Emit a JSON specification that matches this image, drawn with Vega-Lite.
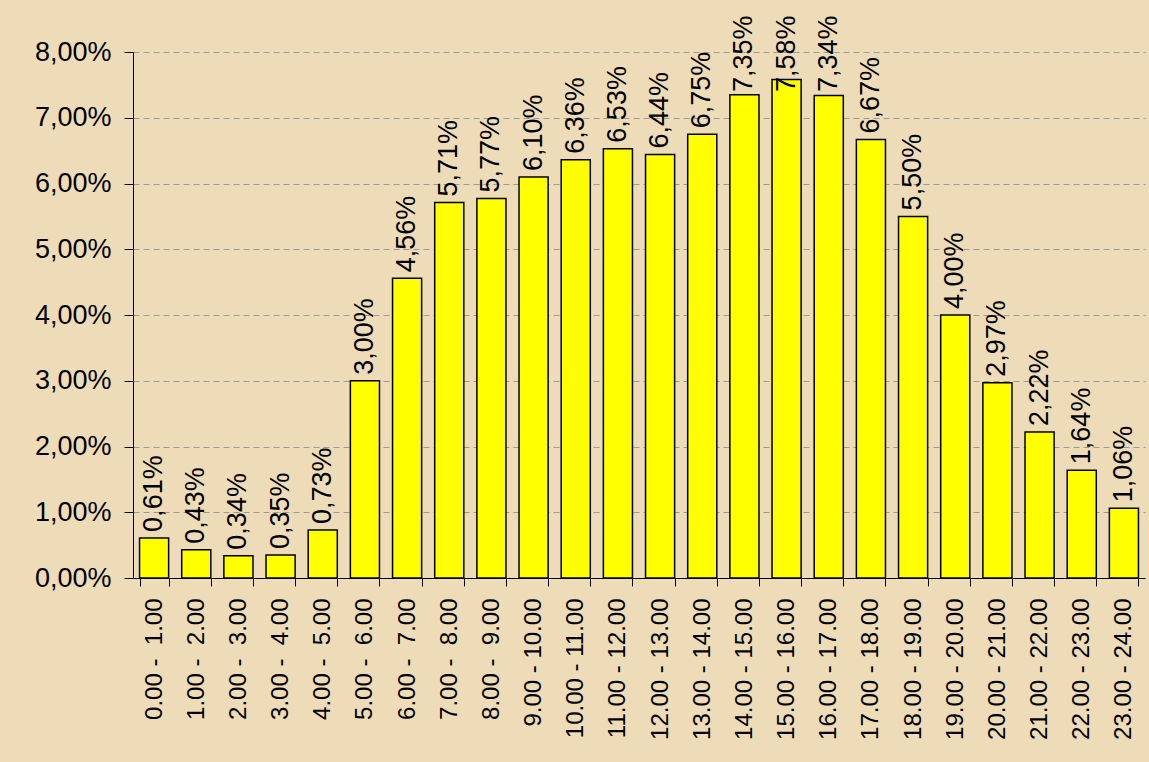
{
  "$schema": "https://vega.github.io/schema/vega-lite/v6.json",
  "width": 1012,
  "height": 526,
  "autosize": {"type": "none"},
  "padding": {"left": 133, "top": 52, "right": 4, "bottom": 184},
  "background": "#eedcb8",
  "config": {
    "view": {"stroke": null},
    "font": "Liberation Sans",
    "locale": {"number": {"decimal": ",", "thousands": ".", "grouping": [3], "currency": ["", " €"]}}
  },
  "data": {
    "values": [
      {"hour": "0.00 -\u00a0 1.00", "share": 0.0061},
      {"hour": "1.00 -\u00a0 2.00", "share": 0.0043},
      {"hour": "2.00 -\u00a0 3.00", "share": 0.0034},
      {"hour": "3.00 -\u00a0 4.00", "share": 0.0035},
      {"hour": "4.00 -\u00a0 5.00", "share": 0.0073},
      {"hour": "5.00 -\u00a0 6.00", "share": 0.0300},
      {"hour": "6.00 -\u00a0 7.00", "share": 0.0456},
      {"hour": "7.00 -\u00a0 8.00", "share": 0.0571},
      {"hour": "8.00 -\u00a0 9.00", "share": 0.0577},
      {"hour": "9.00 - 10.00", "share": 0.0610},
      {"hour": "10.00 - 11.00", "share": 0.0636},
      {"hour": "11.00 - 12.00", "share": 0.0653},
      {"hour": "12.00 - 13.00", "share": 0.0644},
      {"hour": "13.00 - 14.00", "share": 0.0675},
      {"hour": "14.00 - 15.00", "share": 0.0735},
      {"hour": "15.00 - 16.00", "share": 0.0758},
      {"hour": "16.00 - 17.00", "share": 0.0734},
      {"hour": "17.00 - 18.00", "share": 0.0667},
      {"hour": "18.00 - 19.00", "share": 0.0550},
      {"hour": "19.00 - 20.00", "share": 0.0400},
      {"hour": "20.00 - 21.00", "share": 0.0297},
      {"hour": "21.00 - 22.00", "share": 0.0222},
      {"hour": "22.00 - 23.00", "share": 0.0164},
      {"hour": "23.00 - 24.00", "share": 0.0106}
    ]
  },
  "encoding": {
    "x": {
      "field": "hour",
      "type": "nominal",
      "sort": null,
      "scale": {"paddingInner": 0.31, "paddingOuter": 0.155},
      "axis": {
        "title": null,
        "labelAngle": -90,
        "labelAlign": "right",
        "labelBaseline": "middle",
        "labelFontSize": 24,
        "labelColor": "#000000",
        "labelPadding": 12,
        "labelOverlap": false,
        "tickBand": "extent",
        "tickSize": 8,
        "tickColor": "#000000",
        "domainColor": "#000000",
        "grid": false
      }
    },
    "y": {
      "field": "share",
      "type": "quantitative",
      "scale": {"domain": [0, 0.08], "nice": false},
      "axis": {
        "title": null,
        "values": [0, 0.01, 0.02, 0.03, 0.04, 0.05, 0.06, 0.07, 0.08],
        "format": ".2%",
        "labelFontSize": 27,
        "labelColor": "#000000",
        "labelPadding": 13,
        "tickSize": 9,
        "tickColor": "#000000",
        "domainColor": "#000000",
        "grid": true,
        "gridColor": "#999999",
        "gridDash": [6, 4],
        "gridWidth": 1
      }
    }
  },
  "layer": [
    {
      "mark": {"type": "bar", "fill": "#ffff00", "stroke": "#000000", "strokeWidth": 1.5}
    },
    {
      "mark": {
        "type": "text",
        "angle": 270,
        "align": "left",
        "baseline": "middle",
        "dx": {"expr": "min(6, scale('y', datum.share) - 40)"},
        "fontSize": 27,
        "color": "#000000"
      },
      "encoding": {
        "text": {"field": "share", "type": "quantitative", "format": ".2%"}
      }
    }
  ]
}
